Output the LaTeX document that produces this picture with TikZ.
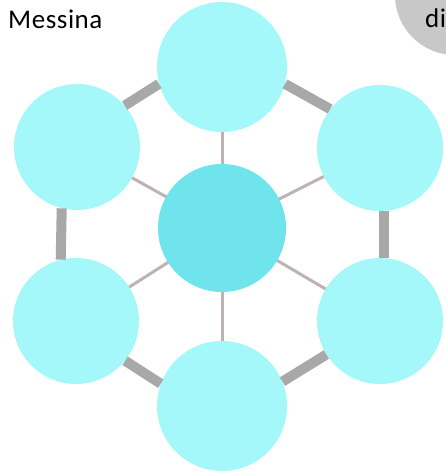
\documentclass[tikz,border=0pt]{standalone}
\usepackage{fontspec}
\usepackage{tikz}
\usetikzlibrary{backgrounds}
\newfontfamily\labelfont[LetterSpace=2]{Carlito}
\definecolor{petalcyan}{RGB}{164,248,250}
\definecolor{hubcyan}{RGB}{112,228,236}
\definecolor{ringgray}{RGB}{168,168,168}
\definecolor{spokegray}{RGB}{190,178,178}
\definecolor{tabgray}{RGB}{200,200,200}

\begin{document}
\begin{tikzpicture}[
    x=1pt,y=-1pt,
    petal/.style={circle,fill=petalcyan,minimum size=126pt,inner sep=0pt},
    hub/.style={circle,fill=hubcyan,minimum size=128pt,inner sep=0pt},
    ring/.style={ringgray,line width=10pt},
    spoke/.style={spokegray,line width=3pt},
    lbl/.style={font=\labelfont\fontsize{27}{32}\selectfont,inner sep=0pt,anchor=base west},
  ]
    \useasboundingbox (0,0) rectangle (445,474);
    \fill[tabgray] (455,-5) circle[radius=60];
    \node[lbl](city) at (8,28){Messina};
    \node[lbl](tab) at (425,27){di};
    % petals round the hub
    \node[hub](hub) at (222,228){};
    \node[petal,minimum size=130pt](top) at (222,67){};
    \node[petal](lu) at (77,147){};
    \node[petal](ru) at (380,148){};
    \node[petal](ll) at (76,321){};
    \node[petal](rl) at (380,321){};
    \node[petal,minimum size=130pt](bot) at (222,406){};
    \begin{scope}[on background layer]
      \foreach \p in {top,lu,ru,ll,rl,bot}
        \draw[spoke](hub.center)--(\p.center);
    \end{scope}
    \draw[ring](lu.41)--(top.195);
    \draw[ring](top.-15)--(ru.142);
    \draw[ring](lu.256)--(ll.104);
    \draw[ring](ru.-86)--(rl.86);
    \draw[ring](ll.-39)--(bot.160);
    \draw[ring](rl.212)--(bot.22);
  \end{tikzpicture}
\end{document}
